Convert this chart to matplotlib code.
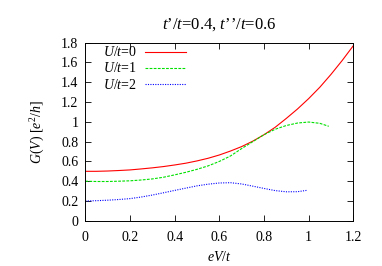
import numpy as np
import matplotlib
matplotlib.use('Agg')
import matplotlib.pyplot as plt

plt.rcParams['font.family'] = ['Liberation Serif', 'DejaVu Serif']
plt.rcParams['mathtext.fontset'] = 'custom'
plt.rcParams['mathtext.rm'] = 'Liberation Serif'
plt.rcParams['mathtext.it'] = 'Liberation Serif:italic'
plt.rcParams['font.size'] = 10

x_u0 = [0, 0.05, 0.1, 0.15, 0.2, 0.25, 0.3, 0.35, 0.4, 0.45, 0.5, 0.55, 0.6,
        0.65, 0.7, 0.75, 0.8, 0.85, 0.9, 0.95, 1.0, 1.05, 1.1, 1.15, 1.2]
g_u0 = [0.50, 0.50, 0.503, 0.508, 0.514, 0.524, 0.535, 0.548, 0.564, 0.582, 0.605, 0.632, 0.665,
        0.705, 0.75, 0.805, 0.87, 0.945, 1.035, 1.13, 1.235, 1.35, 1.48, 1.62, 1.77]

x_u1 = [0, 0.05, 0.1, 0.15, 0.2, 0.25, 0.3, 0.35, 0.4, 0.45, 0.5, 0.55, 0.6,
        0.65, 0.7, 0.75, 0.8, 0.85, 0.9, 0.95, 1.0, 1.05, 1.09]
g_u1 = [0.40, 0.397, 0.397, 0.40, 0.404, 0.412, 0.423, 0.44, 0.464, 0.49, 0.52, 0.555, 0.60,
        0.655, 0.73, 0.80, 0.87, 0.925, 0.963, 0.988, 0.998, 0.985, 0.955]

x_u2 = [0, 0.05, 0.1, 0.15, 0.2, 0.25, 0.3, 0.35, 0.4, 0.45, 0.5, 0.55, 0.6,
        0.65, 0.7, 0.75, 0.8, 0.85, 0.9, 0.95, 0.99]
g_u2 = [0.20, 0.203, 0.208, 0.215, 0.224, 0.24, 0.26, 0.283, 0.307, 0.33, 0.353, 0.37, 0.382,
        0.385, 0.372, 0.35, 0.327, 0.305, 0.293, 0.294, 0.307]

xticks = [0, 0.2, 0.4, 0.6, 0.8, 1.0, 1.2]
xticklabels = ['0', '0.2', '0.4', '0.6', '0.8', '1', '1.2']
yticks = [0, 0.2, 0.4, 0.6, 0.8, 1.0, 1.2, 1.4, 1.6, 1.8]
yticklabels = ['0', '0.2', '0.4', '0.6', '0.8', '1', '1.2', '1.4', '1.6', '1.8']

fig = plt.figure(figsize=(3.82, 2.66), dpi=100)
ax = fig.add_axes([0.2233, 0.170, 0.7017, 0.6695])

ax.plot(x_u0, g_u0, color='#ff0000', lw=0.8, label=r'$U/t$=0')
ax.plot(x_u1, g_u1, color='#00e000', lw=0.8, dashes=(2.5, 1.2), label=r'$U/t$=1')
ax.plot(x_u2, g_u2, color='#0000ff', lw=0.8, dashes=(1, 1.2), label=r'$U/t$=2')

ax.set_xlim(0, 1.2)
ax.set_ylim(0, 1.8)
ax.set_xticks(xticks)
ax.set_xticklabels(xticklabels)
ax.set_yticks(yticks)
ax.set_yticklabels(yticklabels)
ax.tick_params(direction='in', top=True, right=True, length=4, width=0.6)
ax.tick_params(axis='x', pad=7)
ax.tick_params(axis='y', pad=5)
for s in ax.spines.values():
    s.set_linewidth(0.7)

ax.set_xlabel(r'$eV/t$', labelpad=5)
ax.set_ylabel(r'$G(V)$ [$e^2/h$]', labelpad=10)
ax.set_title(r'$t$’/$t$=0.4, $t$’’/$t$=0.6', pad=10)

ax.legend(loc='upper left', bbox_to_anchor=(0.066, 0.985), frameon=False,
          markerfirst=False, handlelength=3.0, handletextpad=0.55,
          labelspacing=0.15, borderpad=0, borderaxespad=0)

fig.savefig('out.png', dpi=100)
